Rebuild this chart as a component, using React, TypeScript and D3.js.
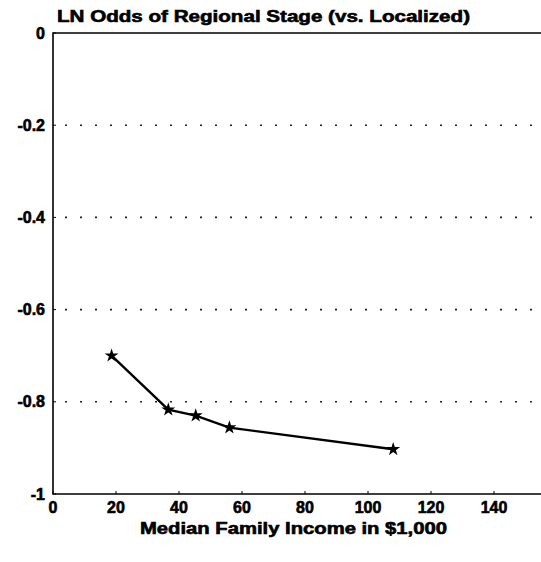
import React, { useEffect, useRef } from "react";
import * as d3 from "d3";

const incomes = [18.6, 36.6, 45.3, 56, 108];
const lnOdds = [-0.7, -0.817, -0.83, -0.856, -0.903];
const xTicks = [0, 20, 40, 60, 80, 100, 120, 140];
const yTicks = [0, -0.2, -0.4, -0.6, -0.8, -1];
const gridTicks = [-0.2, -0.4, -0.6, -0.8];

const title = "LN Odds of Regional Stage (vs. Localized)";
const xTitle = "Median Family Income in $1,000";

const App: React.FC = () => {
  const ref = useRef<SVGSVGElement | null>(null);
  const width = 541;
  const height = 562;

  useEffect(() => {
    if (!ref.current) return;
    const svg = d3.select(ref.current);
    svg.selectAll("*").remove();

    const left = 53;
    const top = 33;
    const bottom = 494;
    const font = "'Liberation Sans', Arial, sans-serif";

    const x = d3.scaleLinear().domain([0, 140]).range([left, 494]);
    const y = d3.scaleLinear().domain([0, -1]).range([top, bottom]);

    // dotted grid
    svg
      .append("g")
      .selectAll("line")
      .data(gridTicks)
      .enter()
      .append("line")
      .attr("x1", left + 12)
      .attr("x2", width)
      .attr("y1", d => y(d))
      .attr("y2", d => y(d))
      .attr("stroke", "#222")
      .attr("stroke-width", 1.6)
      .attr("stroke-dasharray", "2,13");

    // frame: top, left, bottom
    svg
      .append("path")
      .attr("d", `M${width},${top}H${left}V${bottom}H${width}`)
      .attr("fill", "none")
      .attr("stroke", "#000")
      .attr("stroke-width", 1.6);

    const textStyle = (g: d3.Selection<SVGGElement, unknown, null, undefined>) =>
      g
        .attr("font-family", font)
        .attr("font-weight", "bold")
        .attr("font-size", 16)
        .attr("stroke", "#000")
        .attr("stroke-width", 0.6);

    // y ticks
    const yg = svg.append("g").call(textStyle);
    yTicks.forEach(t => {
      yg.append("line")
        .attr("x1", left)
        .attr("x2", left + 3)
        .attr("y1", y(t))
        .attr("y2", y(t))
        .attr("stroke-width", 1);
      yg.append("text")
        .attr("x", 45)
        .attr("y", y(t))
        .attr("dy", "0.35em")
        .attr("text-anchor", "end")
        .text(t === 0 ? "0" : t === -1 ? "-1" : t.toFixed(1));
    });

    // x ticks
    const xg = svg.append("g").call(textStyle);
    xTicks.forEach(t => {
      xg.append("line")
        .attr("x1", x(t))
        .attr("x2", x(t))
        .attr("y1", bottom)
        .attr("y2", bottom - 3)
        .attr("stroke-width", 1);
      xg.append("text")
        .attr("x", x(t))
        .attr("y", 513)
        .attr("text-anchor", "middle")
        .text(String(t));
    });

    // line
    const pts = incomes.map((v, i) => [v, lnOdds[i]] as [number, number]);
    const line = d3
      .line<[number, number]>()
      .x(d => x(d[0]))
      .y(d => y(d[1]));
    svg
      .append("path")
      .datum(pts)
      .attr("d", line)
      .attr("fill", "none")
      .attr("stroke", "#000")
      .attr("stroke-width", 2.4);

    const star = d3.symbol().type(d3.symbolStar).size(60);
    svg
      .append("g")
      .selectAll("path")
      .data(pts)
      .enter()
      .append("path")
      .attr("d", star)
      .attr("transform", d => `translate(${x(d[0])},${y(d[1])})`)
      .attr("fill", "#000");

    // titles
    svg
      .append("g")
      .call(textStyle)
      .append("text")
      .attr("x", 57)
      .attr("y", 22)
      .attr("textLength", 413)
      .attr("lengthAdjust", "spacingAndGlyphs")
      .text(title);

    svg
      .append("g")
      .call(textStyle)
      .append("text")
      .attr("x", 140)
      .attr("y", 534)
      .attr("textLength", 307)
      .attr("lengthAdjust", "spacingAndGlyphs")
      .text(xTitle);
  }, []);

  return (
    <svg
      ref={ref}
      width={width}
      height={height}
      style={{ position: "absolute", left: 0, top: 0, background: "#fff" }}
    />
  );
};

export default App;
